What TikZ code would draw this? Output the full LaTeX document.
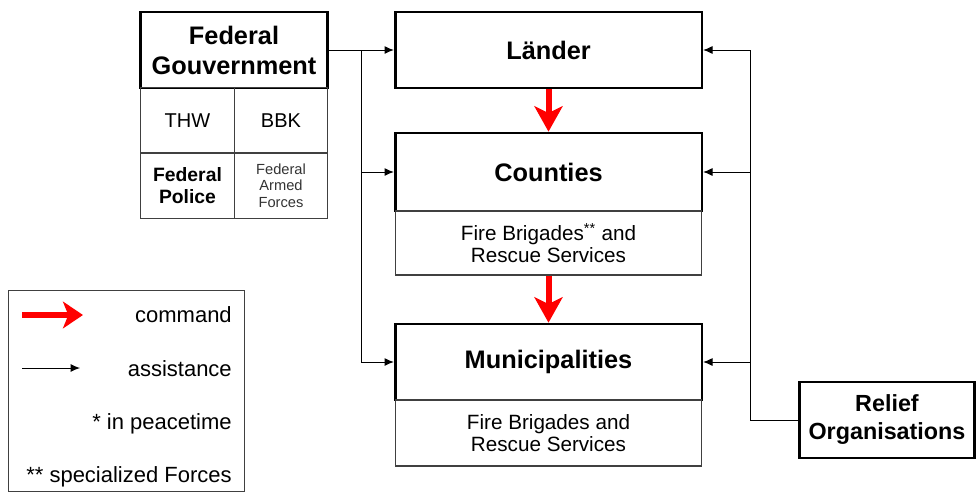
\documentclass[tikz,border=0pt]{standalone}
\usepackage{fontspec}
\setmainfont{Liberation Sans}
\usetikzlibrary{arrows.meta}

\begin{document}
\begin{tikzpicture}[x=0.75pt,y=-0.75pt,
  head/.style={draw,line width=2pt,inner sep=0pt,align=center,
    font=\bfseries\fontsize{19}{22.5}\selectfont},
  sub/.style={draw=black!75,line width=0.9pt,inner sep=0pt,align=center,
    font=\fontsize{15.5}{16}\selectfont},
  cell/.style={draw=black!75,line width=0.9pt,inner sep=0pt,align=center,
    minimum width=70pt,minimum height=49pt},
  assist/.style={line width=0.75pt,-{Latex[length=7pt,width=6pt]}},
  cmd/.style={red,line width=4.5pt,-{Stealth[length=19pt,width=21pt,inset=5pt]}},
  legtext/.style={anchor=base east,inner sep=0pt,font=\fontsize{16.5}{18}\selectfont}]

\useasboundingbox (0,0) rectangle (976,493);

\node[head,minimum width=140pt,minimum height=57pt] (fed) at (234,50) {Federal\\Gouvernment};
\node[cell,font=\fontsize{15}{16}\selectfont] (thw) at (187.5,120.5) {THW};
\node[cell,font=\fontsize{15}{16}\selectfont] (bbk) at (281,120.5) {BBK};
\node[cell,font=\bfseries\fontsize{14.5}{17}\selectfont] (police) at (187.5,185.5) {Federal\\Police};
\node[cell,text=black!80,font=\fontsize{11}{12.5}\selectfont] (forces) at (281,185.5) {Federal\\Armed\\Forces};

\node[head,minimum width=230pt,minimum height=57pt] (laender) at (548.5,50) {Länder};
\node[head,minimum width=230pt,minimum height=58.5pt] (counties) at (548.5,172) {Counties};
\node[sub,minimum width=230pt,minimum height=48pt] (countiessub) at (548.5,243) {Fire Brigades\textsuperscript{**} and\\Rescue Services};
\node[head,minimum width=230pt,minimum height=57pt] (munic) at (548.5,362) {Municipalities};
\node[sub,minimum width=230pt,minimum height=49.5pt] (municsub) at (548.5,433) {Fire Brigades and\\Rescue Services};

\node[head,minimum width=131pt,minimum height=57pt,font=\bfseries\fontsize{17.5}{21}\selectfont] (relief) at (887,420) {Relief\\Organisations};

\draw[cmd] (laender.south) -- (counties.north);
\draw[cmd] (countiessub.south) -- (munic.north);

\coordinate (fedbus) at (361,50);
\draw[assist] (fed.east) -- (laender.west);
\draw[line width=0.75pt] (fedbus) -- (fedbus |- munic.west);
\draw[assist] (fedbus |- counties.west) -- (counties.west);
\draw[assist] (fedbus |- munic.west) -- (munic.west);

\coordinate (relbus) at (750,420);
\draw[line width=0.75pt] (relief.west) -- (relbus) -- (relbus |- laender.east);
\draw[assist] (relbus |- laender.east) -- (laender.east);
\draw[assist] (relbus |- counties.east) -- (counties.east);
\draw[assist] (relbus |- munic.east) -- (munic.east);

\node[draw=black!75,line width=0.9pt,minimum width=177pt,minimum height=151pt] (legend) at (126.5,391) {};
\coordinate (cmdfrom) at (22,315);
\coordinate (cmdto) at (83,315);
\draw[cmd,line width=4pt,-{Stealth[length=15pt,width=20pt,inset=4pt]}] (cmdfrom) -- (cmdto);
\coordinate (assfrom) at (22,368);
\coordinate (assto) at (80,368);
\draw[assist] (assfrom) -- (assto);
\node[legtext] (lcmd) at (232,322) {command};
\node[legtext] (lass) at (232,376) {assistance};
\node[legtext] (lpeace) at (232,429) {* in peacetime};
\node[legtext] (lspec) at (232,482) {** specialized Forces};
\end{tikzpicture}
\end{document}
